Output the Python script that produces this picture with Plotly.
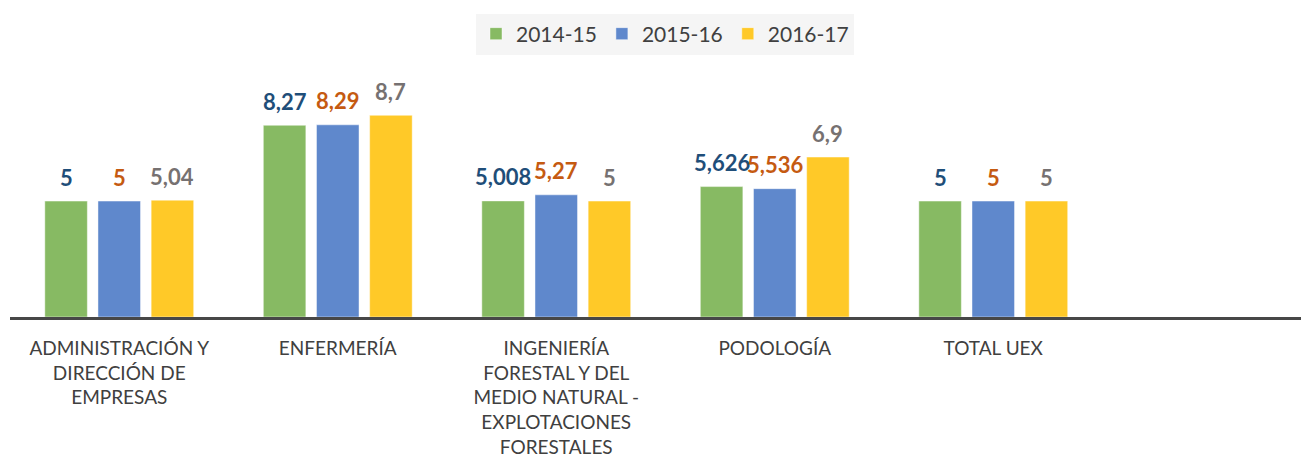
import plotly.graph_objects as go

categories = [
    "ADMINISTRACIÓN Y<br>DIRECCIÓN DE<br>EMPRESAS",
    "ENFERMERÍA",
    "INGENIERÍA<br>FORESTAL Y DEL<br>MEDIO NATURAL -<br>EXPLOTACIONES<br>FORESTALES",
    "PODOLOGÍA",
    "TOTAL UEX",
    " ",
]
series_names = ["2014-15", "2015-16", "2016-17"]
v2014 = [5, 8.27, 5.008, 5.626, 5, None]
v2015 = [5, 8.29, 5.27, 5.536, 5, None]
v2016 = [5.04, 8.7, 5, 6.9, 5, None]
label2014 = ["5", "8,27", "5,008", "5,626", "5", ""]
label2015 = ["5", "8,29", "5,27", "5,536", "5", ""]
label2016 = ["5,04", "8,7", "5", "6,9", "5", ""]

bar_colors = ["#87BA63", "#5F88CC", "#FFC928"]
label_colors = ["#1F4E79", "#C55A11", "#767171"]

values = [v2014, v2015, v2016]
labels = [label2014, label2015, label2016]

fig = go.Figure()
for name, vals, col in zip(series_names, values, bar_colors):
    fig.add_trace(go.Bar(
        x=categories, y=vals, name=name,
        marker=dict(color=col, line=dict(color="rgba(255,255,255,0.45)", width=1)),
        hoverinfo="skip",
    ))

shifts = [-53, 0, 53]
for vals, labs, lc, sh in zip(values, labels, label_colors, shifts):
    for c, v, t in zip(categories, vals, labs):
        if v is None:
            continue
        fig.add_annotation(
            x=c, y=v, text=t, showarrow=False, xshift=sh, yshift=24,
            yanchor="middle", xanchor="center",
            font=dict(family="Lato", size=22, color=lc, weight="bold"),
        )

fig.update_layout(
    width=1309, height=470,
    margin=dict(l=2, r=8, t=54, b=161, autoexpand=False),
    paper_bgcolor="white", plot_bgcolor="white",
    barmode="group", bargap=0.27, bargroupgap=0.2,
    showlegend=True,
    legend=dict(
        orientation="h", x=657 / 1309, xanchor="center", xref="container",
        yref="container", y=1 - 26 / 470, yanchor="middle",
        bgcolor="#F5F5F5", font=dict(family="Lato", size=21, color="#404040"),
        itemwidth=30, traceorder="normal",
    ),
    xaxis=dict(
        range=[-0.5, 5.445], showline=True, linecolor="#474747", linewidth=3,
        ticks="", tickfont=dict(family="Lato", size=19, color="#404040"),
        ticklabelstandoff=12, automargin=False,
        showgrid=False, zeroline=False,
    ),
    yaxis=dict(range=[0, 11], visible=False, showgrid=False, zeroline=False,
               automargin=False),
)

fig.write_html("out.html")
